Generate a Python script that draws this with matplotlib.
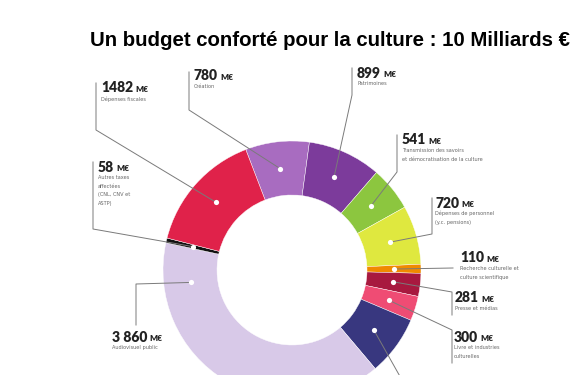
import numpy as np
import matplotlib
matplotlib.use('Agg')
import matplotlib.pyplot as plt

# budget lines, clockwise from the top of the ring (M€)
postes = ['Création', 'Patrimoines', 'Transmission', 'Personnel', 'Recherche',
          'Presse', 'Livre', 'Cinéma', 'Audiovisuel', 'Autres taxes', 'Dépenses fiscales']
valeurs = [780, 899, 541, 720, 110, 281, 300, 730, 3860, 58, 1482]
couleurs = ['#a86cc0', '#7c3b9b', '#8cc63f', '#dfe83f', '#f08a00', '#a8193f',
            '#ef4c74', '#38377f', '#d8c9e8', '#111111', '#e0224a']

montants = ['780', '899', '541', '720', '110', '281', '300', None, '3 860', '58', '1482']
libelles = ['Création', 'Patrimoines',
            'Transmission des savoirs\net démocratisation de la culture',
            'Dépenses de personnel\n(y.c. pensions)',
            'Recherche culturelle et\nculture scientifique',
            'Presse et médias', 'Livre et industries\nculturelles', None,
            'Audiovisuel public', 'Autres taxes\naffectées\n(CNL, CNV et\nASTP)',
            'Dépenses fiscales']

W, H = 580, 375
cx, cy = 292, 270   # centre (pixels from top)
R, larg = 129, 54

# label position (x, y from top) and leader path points (from label side to dot)
pos_txt = [(194, 76), (357, 73), (402, 140), (435, 203), (460, 258),
           (455, 298), (454, 337), None, (112, 337), (98, 167), (101, 88)]
chemins = [[(189, 72), (189, 110)], [(352, 68), (352, 95)], [(397, 135), (397, 172)],
           [(432, 198), (432, 234)], [(453, 268)], [(452, 315), (452, 292)],
           [(452, 363), (452, 330)], [(402, 380)], [(136, 325), (136, 284)],
           [(93, 162), (93, 229)], [(96, 83), (96, 130)]]
angle_force = {8: 187}   # dot of audiovisuel placed near its label

fig = plt.figure(figsize=(5.8, 3.75), dpi=100)
ax = fig.add_axes([0, 0, 1, 1])

wedges, _ = ax.pie(valeurs, colors=couleurs, startangle=111, counterclock=False,
                   radius=R, center=(cx, H - cy),
                   wedgeprops=dict(width=larg, edgecolor='white', linewidth=0.3))
ax.set_xlim(0, W)
ax.set_ylim(0, H)
ax.axis('off')

gris = '#7a7a7a'
rm = R - larg / 2
for i, w in enumerate(wedges):
    a = angle_force.get(i, (w.theta1 + w.theta2) / 2)
    dx = cx + rm * np.cos(np.radians(a))
    dy = (H - cy) + rm * np.sin(np.radians(a))
    pts = [(x, H - y) for x, y in chemins[i]] + [(dx, dy)]
    xs, ys = zip(*pts)
    ax.plot(xs, ys, color=gris, lw=0.7, zorder=3)
    ax.scatter([dx], [dy], s=14, color='white', zorder=4, linewidths=0)

    if pos_txt[i] is None:
        continue
    tx, ty = pos_txt[i]
    t = ax.text(tx, H - ty, montants[i], fontsize=10, fontweight='heavy',
                family='Lato', color='#222222', va='center', ha='left')
    fig.canvas.draw()
    bb = t.get_window_extent()
    ax.text(bb.x1 + 2, H - ty - 1.5, 'M€', fontsize=6, fontweight='heavy',
            family='Lato', color='#222222', va='center', ha='left')
    ax.text(tx, H - ty - 8, libelles[i], fontsize=3.6, color='#666666',
            va='top', ha='left', linespacing=1.9)

fig.text(330 / W, 1 - 40 / H, 'Un budget conforté pour la culture : 10 Milliards €',
         fontsize=14.7, fontweight='bold', family='Liberation Sans',
         ha='center', va='center')

fig.savefig('out.png', dpi=100, facecolor='white')
